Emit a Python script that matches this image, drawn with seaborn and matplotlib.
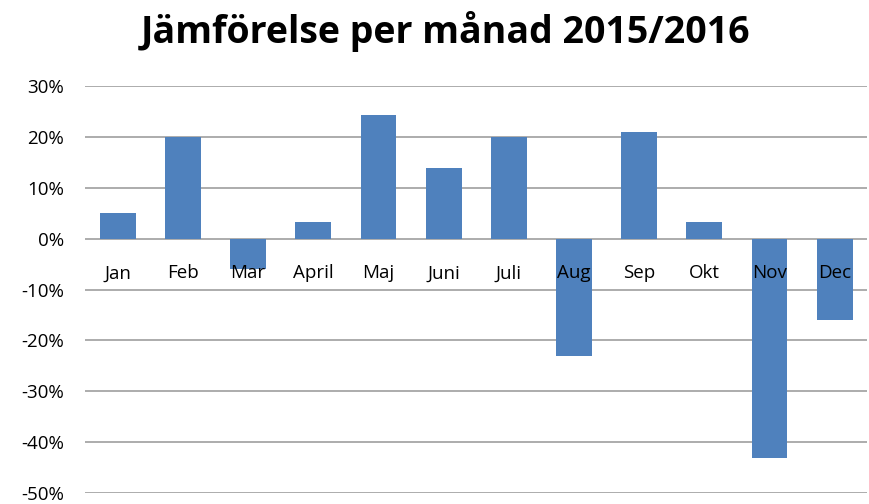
import matplotlib
matplotlib.use("Agg")
import matplotlib.pyplot as plt
import seaborn as sns
import pandas as pd
from matplotlib.ticker import MultipleLocator, FuncFormatter

# data (percent change per month)
months = ["Jan", "Feb", "Mar", "April", "Maj", "Juni", "Juli", "Aug", "Sep", "Okt", "Nov", "Dec"]
change = [5, 20, -6, 3.2, 24.3, 13.9, 20.1, -23.1, 20.9, 3.2, -43.1, -16]

df = pd.DataFrame({"Månad": months, "Förändring": change})

sns.set_theme(style="white")
plt.rcParams["font.family"] = ["Open Sans", "DejaVu Sans"]

fig = plt.figure(figsize=(8.69, 5.04), dpi=100)
ax = fig.add_axes([0.098, 0.022, 0.9, 0.807])

sns.barplot(data=df, x="Månad", y="Förändring", color="#4F81BD", saturation=1,
            width=0.55, linewidth=0, ax=ax, zorder=3)

ax.set_ylim(-50, 30)
ax.set_xlim(-0.5, len(months) - 0.5)
ax.yaxis.set_major_locator(MultipleLocator(10))
ax.yaxis.set_major_formatter(FuncFormatter(lambda v, p: f"{v:.0f}%"))
ax.grid(axis="y", color="#A6A6A6", linewidth=1.3)
ax.set_axisbelow(True)
for s in ax.spines.values():
    s.set_visible(False)

# month labels sit just below the zero line, on top of the bars
ax.set_xticklabels([])
ax.tick_params(axis="x", length=0)
for i, m in enumerate(months):
    ax.annotate(m, (i, 0), xytext=(0, -25), textcoords="offset points",
                ha="center", va="center", fontsize=13.5, color="#000000", zorder=5)

ax.tick_params(axis="y", length=0, pad=15, labelsize=13.5, labelcolor="#000000")
ax.set_xlabel("")
ax.set_ylabel("")

fig.text(0.513, 0.938, "Jämförelse per månad 2015/2016", ha="center", va="center",
         fontsize=27, fontweight="bold", color="#000000")

fig.savefig("out.png", dpi=100)
